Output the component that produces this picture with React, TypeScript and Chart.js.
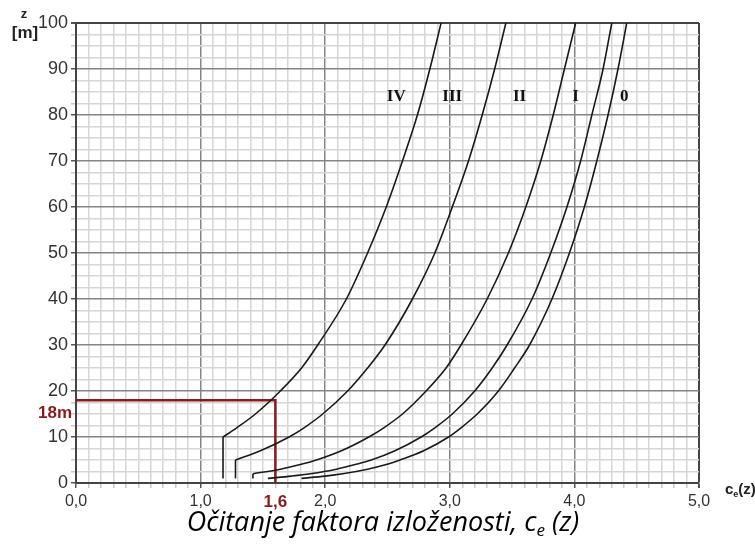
import React, { useEffect, useRef } from 'react';
import { Chart, registerables } from 'chart.js';

Chart.register(...registerables);

// Heights z [m] at which the curves were read
const heights = [1, 1.5, 2, 3, 4, 5, 7, 10, 12, 15, 20, 25, 30, 40, 50, 60, 70, 80, 90, 100];
// Exposure factor ce(z) read for each terrain category
const ceCat0 = [1.81, 2.0, 2.14, 2.34, 2.49, 2.6, 2.79, 2.99, 3.09, 3.22, 3.39, 3.52, 3.64, 3.82, 3.96, 4.08, 4.18, 4.27, 4.35, 4.42];
const ceCatI = [1.54, 1.73, 1.88, 2.09, 2.24, 2.37, 2.56, 2.77, 2.88, 3.02, 3.2, 3.34, 3.46, 3.66, 3.81, 3.94, 4.05, 4.14, 4.23, 4.3];
const ceCatII = [1.42, 1.42, 1.42, 1.64, 1.8, 1.93, 2.13, 2.35, 2.47, 2.62, 2.81, 2.97, 3.09, 3.3, 3.47, 3.61, 3.73, 3.83, 3.92, 4.01];
const ceCatIII = [1.28, 1.28, 1.28, 1.28, 1.28, 1.28, 1.48, 1.71, 1.83, 1.98, 2.18, 2.34, 2.48, 2.7, 2.88, 3.02, 3.15, 3.26, 3.36, 3.45];
const ceCatIV = [1.18, 1.18, 1.18, 1.18, 1.18, 1.18, 1.18, 1.18, 1.29, 1.44, 1.64, 1.81, 1.94, 2.17, 2.34, 2.49, 2.62, 2.74, 2.84, 2.93];

const categories = ['0', 'I', 'II', 'III', 'IV'];
const categorySeries = [ceCat0, ceCatI, ceCatII, ceCatIII, ceCatIV];
const zMin = [1, 1, 2, 5, 10];
const labelCe = [4.4, 4.01, 3.56, 3.02, 2.57];
const labelZ = 84;

// Reading example
const readCe = [0, 1.6, 1.6];
const readZ = [18, 18, 0];
const readValueX = 1.6;
const readValueZ = 18;
const readLabelX = '1,6';
const readLabelZ = '18m';

// Axis ticks
const xMax = 5;
const xStep = 0.1;
const yMax = 100;
const yStep = 2.5;

const RED = '#8b1a1a';
const SANS = '"Liberation Sans", Arial, sans-serif';

const isMultiple = (v: number, m: number) => Math.abs(v / m - Math.round(v / m)) < 1e-6;
const near = (a: number, b: number) => Math.abs(a - b) < 1e-6;

const annotations = {
  id: 'annotations',
  afterDraw(chart: any) {
    const { ctx, scales } = chart;
    const x = scales.x;
    const y = scales.y;
    const area = chart.chartArea;
    ctx.save();

    // curve labels
    ctx.fillStyle = '#111';
    ctx.font = 'bold 17px "Liberation Serif", "Times New Roman", serif';
    ctx.textAlign = 'center';
    ctx.textBaseline = 'middle';
    categories.forEach((c, i) => {
      ctx.fillText(c, x.getPixelForValue(labelCe[i]), y.getPixelForValue(labelZ));
    });

    // y axis title
    ctx.fillStyle = '#222';
    ctx.textAlign = 'center';
    ctx.textBaseline = 'alphabetic';
    ctx.font = `bold 13px ${SANS}`;
    ctx.fillText('z', 24, 18);
    ctx.font = `bold 17px ${SANS}`;
    ctx.fillText('[m]', 25, 38);

    // 18m label
    ctx.fillStyle = RED;
    ctx.font = `bold 17px ${SANS}`;
    ctx.textAlign = 'right';
    ctx.textBaseline = 'middle';
    ctx.fillText(readLabelZ, area.left - 4, y.getPixelForValue(readValueZ) + 13);

    // x axis title c_e(z)
    ctx.fillStyle = '#222';
    ctx.textAlign = 'left';
    ctx.textBaseline = 'alphabetic';
    let tx = area.right + 26;
    const by = area.bottom + 11;
    ctx.font = `bold 15px ${SANS}`;
    ctx.fillText('c', tx, by);
    tx += ctx.measureText('c').width;
    ctx.font = `bold 9px ${SANS}`;
    ctx.fillText('e', tx, by + 3);
    tx += ctx.measureText('e').width;
    ctx.font = `bold 15px ${SANS}`;
    ctx.fillText('(z)', tx, by);

    // caption
    const capFont = 'italic 27px "Open Sans", sans-serif';
    const subFont = 'italic 17px "Open Sans", sans-serif';
    const p1 = 'Očitanje faktora izloženosti, c';
    const p2 = 'e';
    const p3 = ' (z)';
    ctx.font = capFont;
    const w1 = ctx.measureText(p1).width;
    const w3 = ctx.measureText(p3).width;
    ctx.font = subFont;
    const w2 = ctx.measureText(p2).width;
    const total = w1 + w2 + w3;
    let cx = 383 - total / 2;
    const cy = 531;
    ctx.fillStyle = '#000';
    ctx.font = capFont;
    ctx.fillText(p1, cx, cy);
    cx += w1;
    ctx.font = subFont;
    ctx.fillText(p2, cx, cy + 5);
    cx += w2;
    ctx.font = capFont;
    ctx.fillText(p3, cx, cy);

    ctx.restore();
  },
};

export default function App() {
  const ref = useRef<HTMLCanvasElement | null>(null);

  useEffect(() => {
    if (!ref.current) return;
    const datasets: any[] = [];
    categorySeries.forEach((series, k) => {
      const pts = heights.map((z, i) => ({ x: series[i], y: z }));
      const curve = pts.filter((p) => p.y >= zMin[k]);
      const stem = pts.filter((p) => p.y <= zMin[k]);
      datasets.push({
        label: categories[k],
        data: curve,
        borderColor: '#1a1a1a',
        borderWidth: 1.6,
        pointRadius: 0,
        fill: false,
        cubicInterpolationMode: 'monotone',
      });
      if (stem.length > 1) {
        datasets.push({
          label: categories[k] + ' stem',
          data: [stem[0], stem[stem.length - 1]],
          borderColor: '#1a1a1a',
          borderWidth: 1.6,
          pointRadius: 0,
          fill: false,
          tension: 0,
        });
      }
    });
    datasets.push({
      label: 'reading',
      data: readCe.map((c, i) => ({ x: c, y: readZ[i] })),
      borderColor: RED,
      borderWidth: 2.5,
      pointRadius: 0,
      fill: false,
      tension: 0,
    });

    const chart = new Chart(ref.current, {
      type: 'line',
      data: { datasets },
      options: {
        animation: false,
        responsive: false,
        maintainAspectRatio: false,
        layout: { padding: { top: 23, right: 56, left: 0, bottom: 0 } },
        plugins: { legend: { display: false }, tooltip: { enabled: false } },
        scales: {
          x: {
            type: 'linear',
            min: 0,
            max: xMax,
            afterFit: (s: any) => { s.height = 62; },
            afterBuildTicks: (s: any) => {
              const t = [];
              for (let i = 0; i <= Math.round(xMax / xStep); i++) t.push({ value: i / 10 });
              s.ticks = t;
            },
            border: { color: '#444', width: 2 },
            grid: {
              color: (c: any) => {
                const v = c.tick ? c.tick.value : 0;
                if (near(v, xMax)) return '#444';
                return isMultiple(v, 1) ? '#858585' : '#d6d6d6';
              },
              lineWidth: (c: any) => {
                const v = c.tick ? c.tick.value : 0;
                return near(v, xMax) ? 2 : 1.5;
              },
              tickLength: 5,
              tickColor: (c: any) => {
                const v = c.tick ? c.tick.value : 0;
                return isMultiple(v, 1) ? '#555' : '#c8c8c8';
              },
            },
            ticks: {
              autoSkip: false,
              maxRotation: 0,
              padding: 4,
              callback: (v: any) => {
                const n = Number(v);
                if (near(n, readValueX)) return readLabelX;
                return isMultiple(n, 1) ? n.toFixed(1).replace('.', ',') : '';
              },
              color: (c: any) => (c.tick && near(c.tick.value, readValueX) ? RED : '#333'),
              font: (c: any) =>
                c.tick && near(c.tick.value, readValueX)
                  ? { family: SANS, size: 17, weight: 'bold' }
                  : { family: SANS, size: 16 },
            },
          },
          y: {
            type: 'linear',
            min: 0,
            max: yMax,
            afterFit: (s: any) => { s.width = 76; },
            afterBuildTicks: (s: any) => {
              const t = [];
              for (let i = 0; i <= Math.round(yMax / yStep); i++) t.push({ value: i * yStep });
              s.ticks = t;
            },
            border: { color: '#444', width: 2 },
            grid: {
              color: (c: any) => {
                const v = c.tick ? c.tick.value : 0;
                if (near(v, yMax)) return '#444';
                return isMultiple(v, 10) ? '#858585' : '#d6d6d6';
              },
              lineWidth: (c: any) => {
                const v = c.tick ? c.tick.value : 0;
                return near(v, yMax) ? 2 : 1.5;
              },
              tickLength: 5,
              tickColor: (c: any) => {
                const v = c.tick ? c.tick.value : 0;
                return isMultiple(v, 10) ? '#555' : '#c8c8c8';
              },
            },
            ticks: {
              autoSkip: false,
              padding: 3,
              callback: (v: any) => {
                const n = Number(v);
                return isMultiple(n, 10) ? String(Math.round(n)) : '';
              },
              color: '#333',
              font: { family: SANS, size: 18 },
            },
          },
        },
      },
      plugins: [annotations],
    } as any);
    return () => chart.destroy();
  }, []);

  return (
    <div style={{ position: 'fixed', left: 0, top: 0, width: 755, height: 545, background: '#fff' }}>
      <canvas ref={ref} width={755} height={545} style={{ width: 755, height: 545, display: 'block' }} />
    </div>
  );
}
